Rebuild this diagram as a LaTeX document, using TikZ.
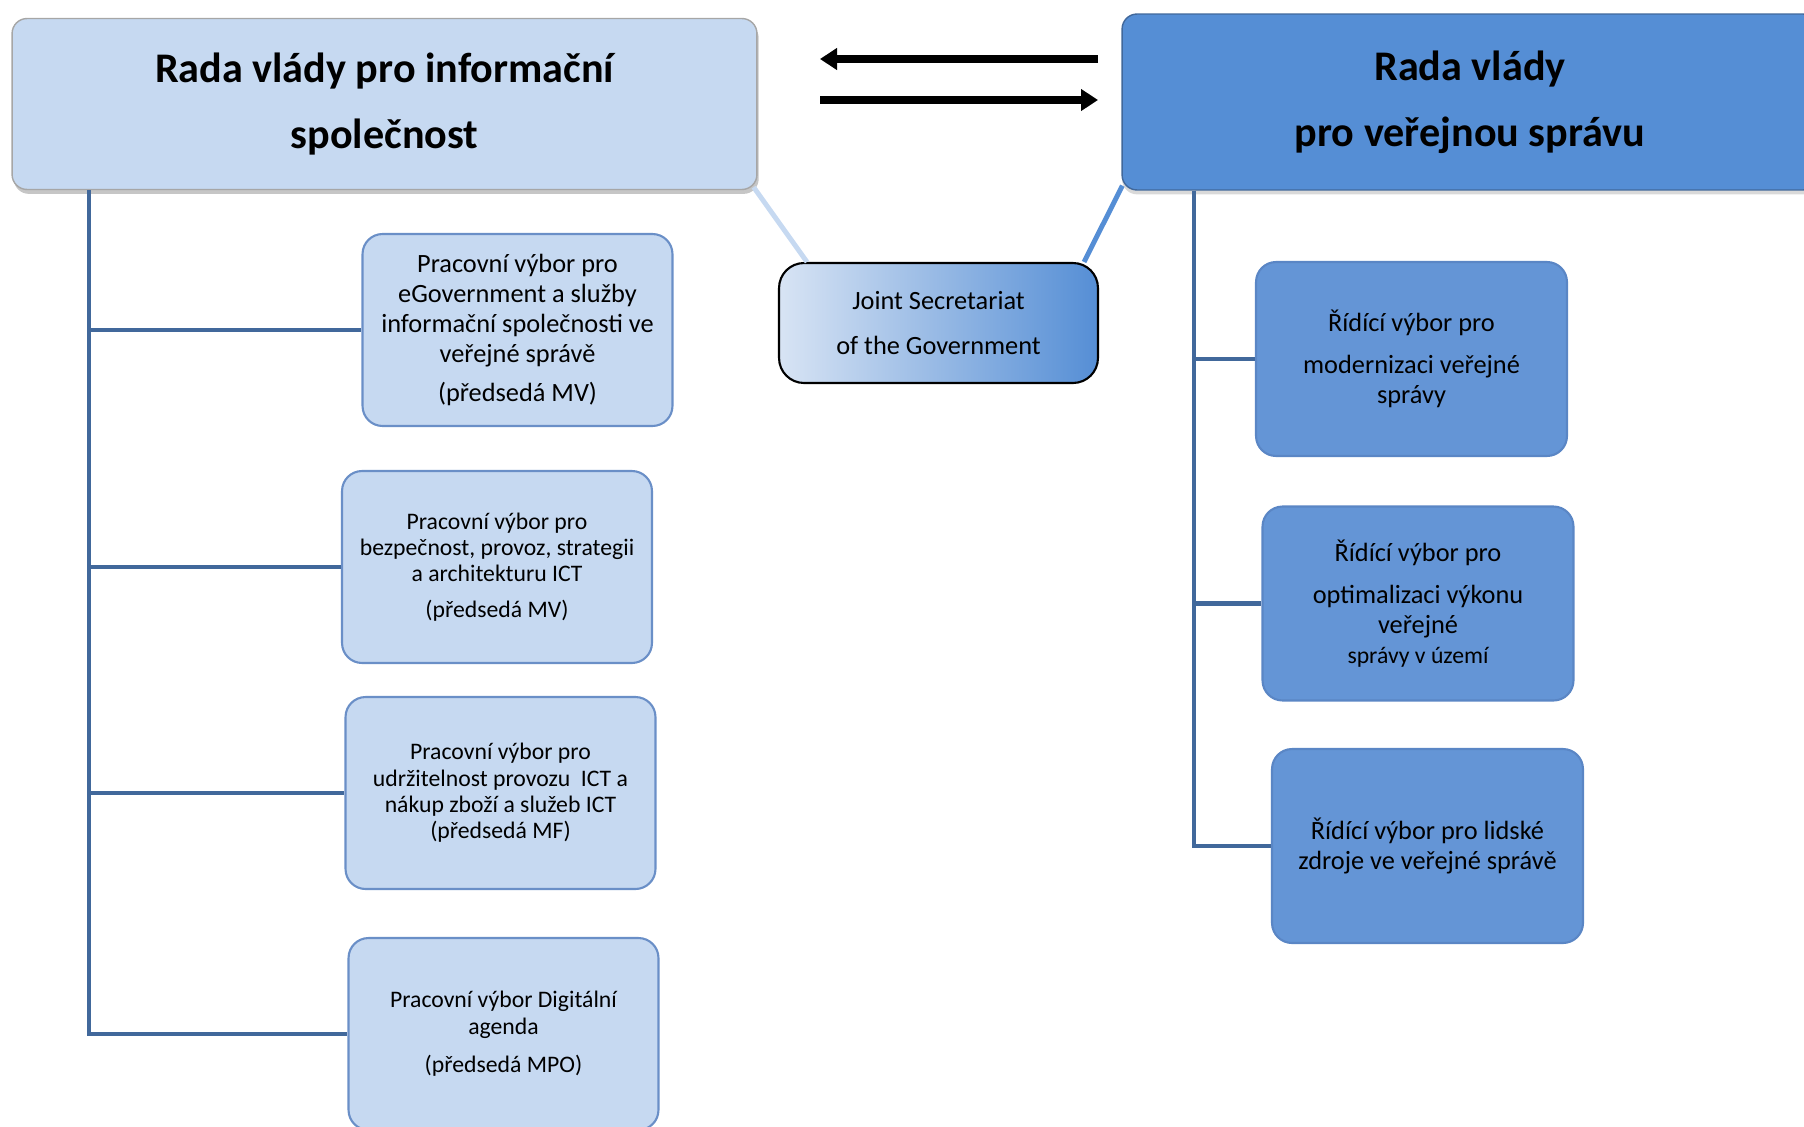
\documentclass[tikz,border=0pt]{standalone}
\usepackage{fontspec}
\setmainfont{Carlito}
\usetikzlibrary{arrows.meta,shadows,calc}

\definecolor{lfill}{HTML}{C6D9F1}
\definecolor{lborder}{HTML}{6A8FC7}
\definecolor{rfill}{HTML}{6495D6}
\definecolor{rborder}{HTML}{5A86C5}
\definecolor{rtopfill}{HTML}{558ED5}
\definecolor{spinec}{HTML}{41689B}
\definecolor{jleft}{HTML}{D8E4F4}

\tikzset{
  topbox/.style={rounded corners=0.3cm, align=center, inner sep=0pt,
    font=\fontsize{24}{37.4}\selectfont\bfseries},
  lbox/.style={draw=lborder, fill=lfill, line width=1.2pt, rounded corners=0.4cm,
    minimum width=6.2cm, minimum height=3.84cm, align=center, inner sep=0pt,
    font=\fontsize{13.5}{15}\selectfont},
  rbox/.style={draw=rborder, fill=rfill, line width=1.2pt, rounded corners=0.4cm,
    minimum width=6.22cm, minimum height=3.88cm, align=center, inner sep=0pt,
    font=\fontsize{15}{17}\selectfont},
  jointbox/.style={draw=black, line width=1.2pt, rounded corners=0.5cm,
    left color=jleft, right color=rtopfill, minimum width=6.38cm,
    minimum height=2.4cm, align=center, inner sep=0pt,
    font=\fontsize{15}{26}\selectfont},
  spine/.style={draw=spinec, line width=2.8pt},
  flow/.style={draw=black, line width=4pt,
    -{Triangle[length=0.34cm,width=0.42cm]}}
}

\begin{document}
\begin{tikzpicture}[x=0.02cm,y=-0.02cm]
  \useasboundingbox (0,0) rectangle (1804,1126);

  \node[topbox, fill=lfill, draw=gray!70, line width=0.8pt,
    drop shadow={shadow xshift=1pt, shadow yshift=-2.5pt, opacity=0.45},
    minimum width=14.9cm, minimum height=3.42cm]
    (ltop) at (384.5,104) {Rada vlády pro informační\\společnost};
  \node[topbox, fill=rtopfill, draw=spinec, line width=0.8pt,
    drop shadow={shadow xshift=0pt, shadow yshift=-2.5pt, opacity=0.3},
    minimum width=13.92cm, minimum height=3.52cm]
    (rtop) at (1470,102) {Rada vlády\\pro veřejnou správu};

  \node[jointbox] (joint) at (938.5,323) {Joint Secretariat\\of the Government};

  \begin{scope}[every node/.style={lbox}]
    \node[font=\fontsize{15}{17}\selectfont] (lb1) at (517.5,330) {Pracovní výbor pro\\eGovernment a služby\\informační společnosti ve\\veřejné správě\\[5.5pt](předsedá MV)};
    \node (lb2) at (497,567) {Pracovní výbor pro\\bezpečnost, provoz, strategii\\a architekturu ICT\\[5.4pt](předsedá MV)};
    \node (lb3) at (500.5,793) {Pracovní výbor pro\\udržitelnost provozu\ \ ICT a\\nákup zboží a služeb ICT\\(předsedá MF)};
    \node (lb4) at (503.5,1034) {Pracovní výbor Digitální\\agenda\\[7pt](předsedá MPO)};
  \end{scope}

  \begin{scope}[every node/.style={rbox}]
    \node (rb1) at (1411.5,359) {Řídící výbor pro\\[7pt]modernizaci veřejné\\správy};
    \node (rb2) at (1418,603.5) {Řídící výbor pro\\[7pt]optimalizaci výkonu\\veřejné\\{\fontsize{13.5}{15}\selectfont správy v území}};
    \node (rb3) at (1427.5,846) {Řídící výbor pro lidské\\zdroje ve veřejné správě};
  \end{scope}

  \coordinate (lsp) at (89,0);
  \coordinate (rsp) at (1194,0);
  \path[spine] (ltop.south -| lsp) |- (lb4.west);
  \foreach \b in {lb1,lb2,lb3}
    \path[spine] (lsp |- \b.west) -- (\b.west);
  \path[spine] (rtop.south -| rsp) |- (rb3.west);
  \foreach \b in {rb1,rb2}
    \path[spine] (rsp |- \b.west) -- (\b.west);

  \draw[lfill, line width=2.8pt] ($(ltop.south east)+(-4,-3)$) -- ($(joint.north west)+(29,0)$);
  \draw[rtopfill, line width=2.8pt] ($(rtop.south west)+(1,-5)$) -- ($(joint.north east)+(-15,0)$);

  \coordinate (a1) at (1098,59);
  \coordinate (a2) at (820,59);
  \coordinate (a3) at (820,100);
  \coordinate (a4) at (1098,100);
  \path[flow] (a1) -- (a2);
  \path[flow] (a3) -- (a4);
\end{tikzpicture}
\end{document}
